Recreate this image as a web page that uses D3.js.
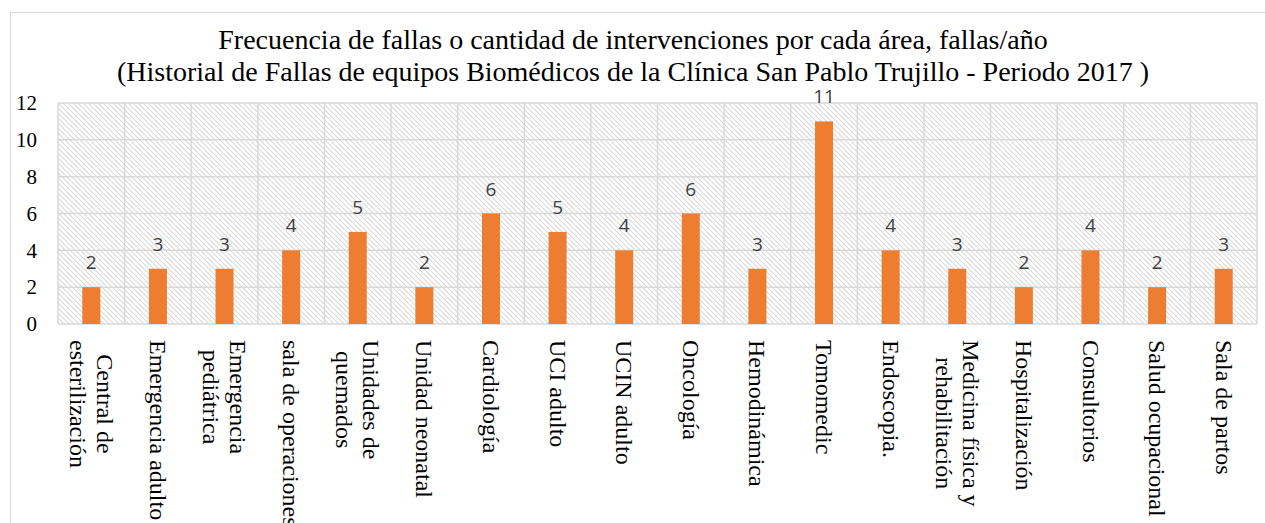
<!DOCTYPE html>
<html>
<head>
<meta charset="utf-8">
<script src="https://cdn.jsdelivr.net/npm/d3@7"></script>
<style>
  body { margin: 0; background: #fff; }
  svg { display: block; }
</style>
</head>
<body>
<div id="chart"></div>
<script>
// Data
const areas = [
  "Central de\nesterilización", "Emergencia adulto", "Emergencia\npediátrica",
  "sala de operaciones", "Unidades de\nquemados", "Unidad neonatal", "Cardiología",
  "UCI adulto", "UCIN adulto", "Oncología", "Hemodinámica", "Tomomedic",
  "Endoscopia.", "Medicina física y\nrehabilitación", "Hospitalización",
  "Consultorios", "Salud ocupacional", "Sala de partos"
];
const fallas = [2, 3, 3, 4, 5, 2, 6, 5, 4, 6, 3, 11, 4, 3, 2, 4, 2, 3];
const yTicks = [0, 2, 4, 6, 8, 10, 12];
const titleLines = [
  "Frecuencia de fallas o cantidad de intervenciones por cada área, fallas/año",
  "(Historial de Fallas de equipos Biomédicos de la Clínica San Pablo Trujillo - Periodo 2017 )"
];

const W = 1265, H = 523;
const plot = { left: 58, right: 1257, top: 103, bottom: 324 };

const svg = d3.select("#chart").append("svg")
    .attr("width", W)
    .attr("height", H);

// hatch pattern for the plot area
const defs = svg.append("defs");
const pat = defs.append("pattern")
    .attr("id", "hatch")
    .attr("patternUnits", "userSpaceOnUse")
    .attr("width", 5)
    .attr("height", 5);
pat.append("rect").attr("width", 5).attr("height", 5).attr("fill", "#fff");
pat.append("path")
    .attr("d", "M0,0 L5,5 M-1,4 L1,6 M4,-1 L6,1")
    .attr("stroke", "#d9d9d9")
    .attr("stroke-width", 1.1);

// chart border (runs off the right and bottom of the picture)
svg.append("rect")
    .attr("x", 10.5).attr("y", 12.5)
    .attr("width", W).attr("height", H)
    .attr("fill", "none")
    .attr("stroke", "#d9d9d9")
    .attr("stroke-width", 1);

// scales
const x = d3.scaleBand().domain(areas).range([plot.left, plot.right]).padding(0);
const y = d3.scaleLinear().domain([0, 12]).range([plot.bottom, plot.top]);

// plot background
svg.append("rect")
    .attr("x", plot.left).attr("y", plot.top)
    .attr("width", plot.right - plot.left)
    .attr("height", plot.bottom - plot.top)
    .attr("fill", "url(#hatch)");

// gridlines
svg.append("g")
    .selectAll("line")
    .data(yTicks)
    .join("line")
    .attr("x1", plot.left).attr("x2", plot.right)
    .attr("y1", d => y(d)).attr("y2", d => y(d))
    .attr("stroke", "#d9d9d9")
    .attr("stroke-width", 1.5);

const bounds = areas.map(a => x(a)).concat([plot.right]);
svg.append("g")
    .selectAll("line")
    .data(bounds)
    .join("line")
    .attr("x1", d => d).attr("x2", d => d)
    .attr("y1", plot.top).attr("y2", plot.bottom)
    .attr("stroke", "#d9d9d9")
    .attr("stroke-width", 1.5);

// y axis labels
const yAxis = svg.append("g")
    .attr("transform", `translate(${plot.left},0)`)
    .call(d3.axisLeft(y).tickValues(yTicks).tickSize(0).tickPadding(21));
yAxis.select(".domain").remove();
yAxis.selectAll("text")
    .attr("font-family", "'Liberation Serif', 'Times New Roman', serif")
    .attr("font-size", 21)
    .attr("fill", "#000");

// bars
const barW = 18;
svg.append("g")
    .selectAll("rect")
    .data(fallas)
    .join("rect")
    .attr("x", (d, i) => x(areas[i]) + x.bandwidth() / 2 - barW / 2)
    .attr("y", d => y(d))
    .attr("width", barW)
    .attr("height", d => y(0) - y(d))
    .attr("fill", "#ed7d31");

// data labels
svg.append("g")
    .selectAll("text")
    .data(fallas)
    .join("text")
    .attr("x", (d, i) => x(areas[i]) + x.bandwidth() / 2)
    .attr("y", d => y(d) - 18)
    .attr("text-anchor", "middle")
    .attr("font-family", "'Open Sans', sans-serif")
    .attr("font-size", 19)
    .attr("fill", "#404040")
    .text(d => d);

// category labels, rotated to read top to bottom
const catFont = 24, lineH = 27, labelTop = 340;
const cats = svg.append("g")
    .selectAll("text")
    .data(areas)
    .join("text")
    .attr("font-family", "'Liberation Serif', 'Times New Roman', serif")
    .attr("font-size", catFont)
    .attr("fill", "#000")
    .attr("text-anchor", "middle");

cats.each(function (d) {
  const t = d3.select(this);
  const lines = d.split("\n");
  lines.forEach((ln, i) => {
    t.append("tspan")
      .attr("x", 0)
      .attr("y", (i - (lines.length - 1) / 2) * lineH + catFont * 0.33)
      .text(ln);
  });
  let maxLen = 0;
  t.selectAll("tspan").each(function () {
    maxLen = Math.max(maxLen, this.getComputedTextLength());
  });
  const cx = x(d) + x.bandwidth() / 2;
  t.attr("transform", `translate(${cx},${labelTop + maxLen / 2}) rotate(90)`);
});

// title
svg.append("g")
    .selectAll("text")
    .data(titleLines)
    .join("text")
    .attr("x", 633)
    .attr("y", (d, i) => 49 + i * 32)
    .attr("text-anchor", "middle")
    .attr("font-family", "'Liberation Serif', 'Times New Roman', serif")
    .attr("font-size", 28)
    .attr("fill", "#000")
    .text(d => d);
</script>
</body>
</html>
